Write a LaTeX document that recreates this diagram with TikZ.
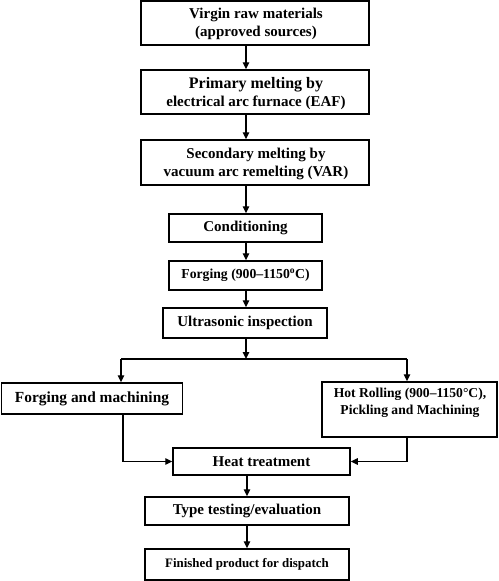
\documentclass[tikz,border=0pt]{standalone}
\usepackage{fontspec}
\setmainfont{Liberation Serif}
\usetikzlibrary{arrows.meta}
\begin{document}
\begin{tikzpicture}[x=1pt,y=-1pt,
  box/.style={draw=black,line width=1.5pt,rectangle,inner sep=0pt,align=center,font=\bfseries\fontsize{15}{18}\selectfont},
  txt/.style={inner sep=0pt,align=center,font=\bfseries\fontsize{15}{18}\selectfont},
  conn/.style={line width=1.3pt,-{Triangle[length=7pt,width=6.5pt]}},
  plain/.style={line width=1.3pt}]
\useasboundingbox (0,0) rectangle (498,581);
\coordinate (sp) at (246,0);
\node[box,minimum width=228,minimum height=44] (b1) at (255,23) {};
\node[txt] (t1) at (256,24) {Virgin raw materials\\(approved sources)};
\node[box,minimum width=228,minimum height=44] (b2) at (255,92) {};
\node[txt] (t2) at (256,94) {{\fontsize{16}{18}\selectfont Primary melting by}\\electrical arc furnace (EAF)};
\node[box,minimum width=228,minimum height=45] (b3) at (255,162.5) {};
\node[txt] (t3) at (256,164) {Secondary melting by\\vacuum arc remelting (VAR)};
\node[box,minimum width=153,minimum height=28] (b4) at (245.5,228) {Conditioning};
\node[box,minimum width=153,minimum height=29,font=\bfseries\fontsize{13.7}{16}\selectfont] (b5) at (245.5,275.5) {Forging (900–1150\textsuperscript{o}C)};
\node[box,minimum width=164,minimum height=30] (b6) at (245,323) {Ultrasonic inspection};
\coordinate (jn) at (246,359);
\coordinate (jl) at (121,359);
\coordinate (jr) at (407,359);
\node[box,minimum width=181,minimum height=31,font=\bfseries\fontsize{15.4}{18}\selectfont] (b7) at (92,398.5) {Forging and machining};
\node[box,minimum width=175,minimum height=55] (b8) at (409.5,409.5) {};
\node[txt,font=\bfseries\fontsize{13.6}{17}\selectfont] (t8) at (410,403) {Hot Rolling (900–1150°C),\\Pickling and Machining};
\node[box,minimum width=177,minimum height=27] (b9) at (261.5,461.5) {Heat treatment};
\coordinate (cl) at (123,461.5);
\coordinate (cr) at (407,461.5);
\node[box,minimum width=204,minimum height=28] (b10) at (247,511) {Type testing/evaluation};
\node[box,minimum width=204,minimum height=31,font=\bfseries\fontsize{12.9}{15}\selectfont] (b11) at (247,564.5) {Finished product for dispatch};
\draw[conn] (b1.south -| sp) -- (b2.north -| sp);
\draw[conn] (b2.south -| sp) -- (b3.north -| sp);
\draw[conn] (b3.south -| sp) -- (b4.north -| sp);
\draw[conn] (b4.south -| sp) -- (b5.north -| sp);
\draw[conn] (b5.south -| sp) -- (b6.north -| sp);
\draw[conn] (b6.south -| jn) -- (jn);
\draw[plain] (jl) -- (jr);
\draw[conn] (jl) -- (b7.north -| jl);
\draw[conn] (jr) -- (b8.north -| jr);
\draw[conn] (b7.south -| cl) -- (cl) -- (b9.west);
\draw[conn] (b8.south -| cr) -- (cr) -- (b9.east);
\draw[conn] (b9.south -| b10.north) -- (b10.north);
\draw[conn] (b10.south) -- (b11.north);
\end{tikzpicture}
\end{document}
